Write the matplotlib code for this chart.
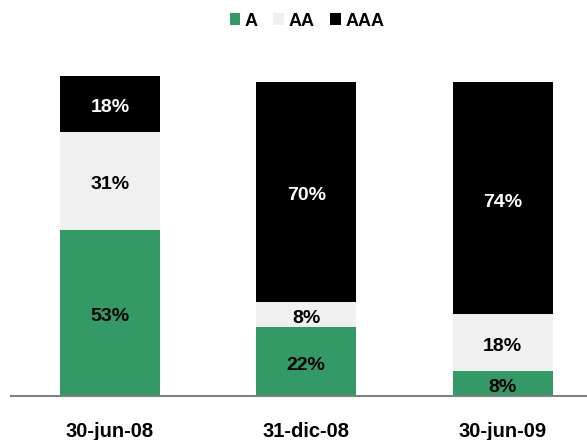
import matplotlib
matplotlib.use("Agg")
import matplotlib.pyplot as plt
from matplotlib.patches import Patch
from matplotlib.transforms import offset_copy

categories = ["30-jun-08", "31-dic-08", "30-jun-09"]
series_names = ["A", "AA", "AAA"]
a_vals = [53, 22, 8]
aa_vals = [31, 8, 18]
aaa_vals = [18, 70, 74]
colors = ["#339966", "#f0f0f0", "#000000"]
text_colors = ["black", "black", "white"]

plt.rcParams['font.family'] = ['Liberation Sans', 'DejaVu Sans']

fig = plt.figure(figsize=(5.87, 4.4), dpi=100)
ax = fig.add_axes([11/587, 0.1, 1 - 11/587, (396 - 40) / 440])
label_tr = offset_copy(ax.transData, fig=fig, x=0, y=-4, units="dots")

x = list(range(len(categories)))
bottoms = [0, 0, 0]
for vals, col, tc, name in zip([a_vals, aa_vals, aaa_vals], colors, text_colors, series_names):
    ax.bar(x, vals, width=0.51, bottom=bottoms, color=col, label=name, zorder=2)
    for xi, v, b in zip(x, vals, bottoms):
        ax.text(xi, b + v / 2, f"{v}%", ha="center", va="center", color=tc,
                fontsize=14, fontweight="bold", zorder=3, transform=label_tr)
    bottoms = [b + v for b, v in zip(bottoms, vals)]

ax.set_xlim(-0.504, 2.43)
ax.set_ylim(0, 356 / 3.14)
ax.set_xticks(x)
ax.set_xticklabels(categories, fontsize=14.5, fontweight="bold")
ax.tick_params(axis="x", length=0, pad=19)
ax.set_yticks([])
for s in ["top", "right", "left"]:
    ax.spines[s].set_visible(False)
ax.spines["bottom"].set_color("#808080")
ax.spines["bottom"].set_linewidth(1.5)

handles = [Patch(facecolor=c, edgecolor="none", label=n) for c, n in zip(colors, series_names)]
fig.legend(handles=handles, loc="center", bbox_to_anchor=(307/587, 1 - 21/440), ncol=3,
           frameon=False, prop={"weight": "bold", "size": 13},
           handlelength=0.6, handleheight=0.6, handletextpad=0.25, columnspacing=0.85)

fig.savefig("out.png", dpi=100)
